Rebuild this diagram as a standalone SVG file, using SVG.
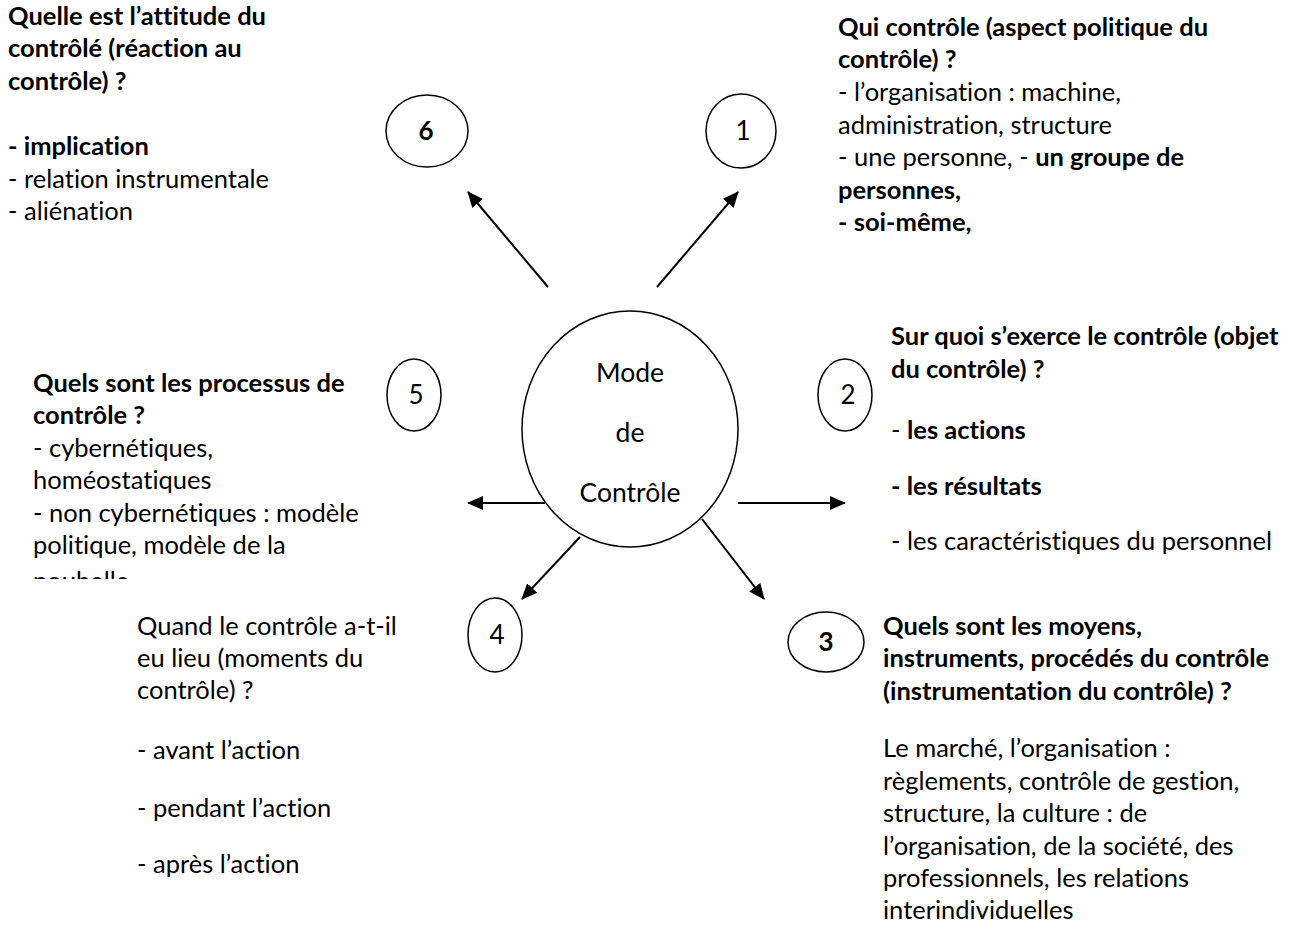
<svg xmlns="http://www.w3.org/2000/svg" width="1296" height="940" viewBox="0 0 1296 940">
<style>
text{font-family:Lato,"Liberation Sans",sans-serif;font-size:25.5px;fill:#000;font-variant-ligatures:none}
.b{font-weight:bold}
.num{font-size:26px;text-anchor:middle}
.ctr{font-size:26.5px;text-anchor:middle}
.ov{fill:#fff;stroke:#000;stroke-width:1.5}
.ar{stroke:#000;stroke-width:2;fill:none;marker-end:url(#ah)}
</style>
<defs>
<marker id="ah" markerUnits="userSpaceOnUse" markerWidth="16" markerHeight="14" refX="15" refY="7" orient="auto">
<path d="M0,0 L16,7 L0,14 z" fill="#000"/>
</marker>
<clipPath id="clip5"><rect x="0" y="360" width="400" height="219"/></clipPath>
</defs>
<rect width="1296" height="940" fill="#fff"/>

<g id="connectors">
<line class="ar" x1="548" y1="287" x2="468" y2="192"/>
<line class="ar" x1="657" y1="287" x2="738" y2="192"/>
<line class="ar" x1="545" y1="503" x2="468" y2="503"/>
<line class="ar" x1="738" y1="503" x2="845" y2="503"/>
<line class="ar" x1="580" y1="537" x2="522" y2="599"/>
<line class="ar" x1="702" y1="519" x2="764" y2="599"/>
</g>

<g id="center">
<ellipse class="ov" cx="630" cy="429" rx="108" ry="118"/>
<text class="ctr" x="630" y="382">Mode</text>
<text class="ctr" x="630" y="442">de</text>
<text class="ctr" x="630" y="502">Contrôle</text>
</g>

<g id="node6">
<ellipse class="ov" cx="427" cy="131" rx="41" ry="36"/>
<text class="num b" x="426" y="140">6</text>
</g>
<g id="node1">
<ellipse class="ov" cx="741" cy="131" rx="35" ry="37"/>
<text class="num" x="743" y="140">1</text>
</g>
<g id="node2">
<ellipse class="ov" cx="845" cy="395" rx="27" ry="36"/>
<text class="num" x="848" y="404">2</text>
</g>
<g id="node5">
<ellipse class="ov" cx="414" cy="395" rx="27" ry="36"/>
<text class="num" x="416" y="404">5</text>
</g>
<g id="node4">
<ellipse class="ov" cx="495" cy="635" rx="27" ry="37"/>
<text class="num" x="497" y="644">4</text>
</g>
<g id="node3">
<ellipse class="ov" cx="826" cy="642" rx="38" ry="30"/>
<text class="num b" x="826" y="651">3</text>
</g>

<g id="text6">
<text class="b" x="8" y="25">Quelle est l’attitude du</text>
<text class="b" x="8" y="57">contrôlé (réaction au</text>
<text class="b" x="8" y="90">contrôle) ?</text>
<text class="b" x="8" y="155">- implication</text>
<text x="8" y="188">- relation instrumentale</text>
<text x="8" y="220">- aliénation</text>
</g>

<g id="text1">
<text class="b" x="838" y="36">Qui contrôle (aspect politique du</text>
<text class="b" x="838" y="68">contrôle) ?</text>
<text x="838" y="101">- l’organisation : machine,</text>
<text x="838" y="134">administration, structure</text>
<text x="838" y="166">- une personne, - <tspan class="b">un groupe de</tspan></text>
<text class="b" x="838" y="199">personnes,</text>
<text class="b" x="838" y="231">- soi-même,</text>
</g>

<g id="text2">
<text class="b" x="891" y="345">Sur quoi s’exerce le contrôle (objet</text>
<text class="b" x="891" y="378">du contrôle) ?</text>
<text x="891" y="439">- <tspan class="b">les actions</tspan></text>
<text class="b" x="891" y="495">- les résultats</text>
<text x="891" y="550">- les caractéristiques du personnel</text>
</g>

<g id="text3">
<text class="b" x="883" y="635">Quels sont les moyens,</text>
<text class="b" x="883" y="667">instruments, procédés du contrôle</text>
<text class="b" x="883" y="700">(instrumentation du contrôle) ?</text>
<text x="883" y="757">Le marché, l’organisation :</text>
<text x="883" y="790">règlements, contrôle de gestion,</text>
<text x="883" y="822">structure, la culture : de</text>
<text x="883" y="855">l’organisation, de la société, des</text>
<text x="883" y="887">professionnels, les relations</text>
<text x="883" y="919">interindividuelles</text>
</g>

<g id="text4">
<text x="137" y="635">Quand le contrôle a-t-il</text>
<text x="137" y="667">eu lieu (moments du</text>
<text x="137" y="699">contrôle) ?</text>
<text x="137" y="759">- avant l’action</text>
<text x="137" y="817">- pendant l’action</text>
<text x="137" y="873">- après l’action</text>
</g>

<g id="text5" clip-path="url(#clip5)">
<text class="b" x="33" y="392">Quels sont les processus de</text>
<text class="b" x="33" y="424">contrôle ?</text>
<text x="33" y="457">- cybernétiques,</text>
<text x="33" y="489">homéostatiques</text>
<text x="33" y="522">- non cybernétiques : modèle</text>
<text x="33" y="554">politique, modèle de la</text>
<text x="33" y="590">poubelle</text>
</g>
</svg>
